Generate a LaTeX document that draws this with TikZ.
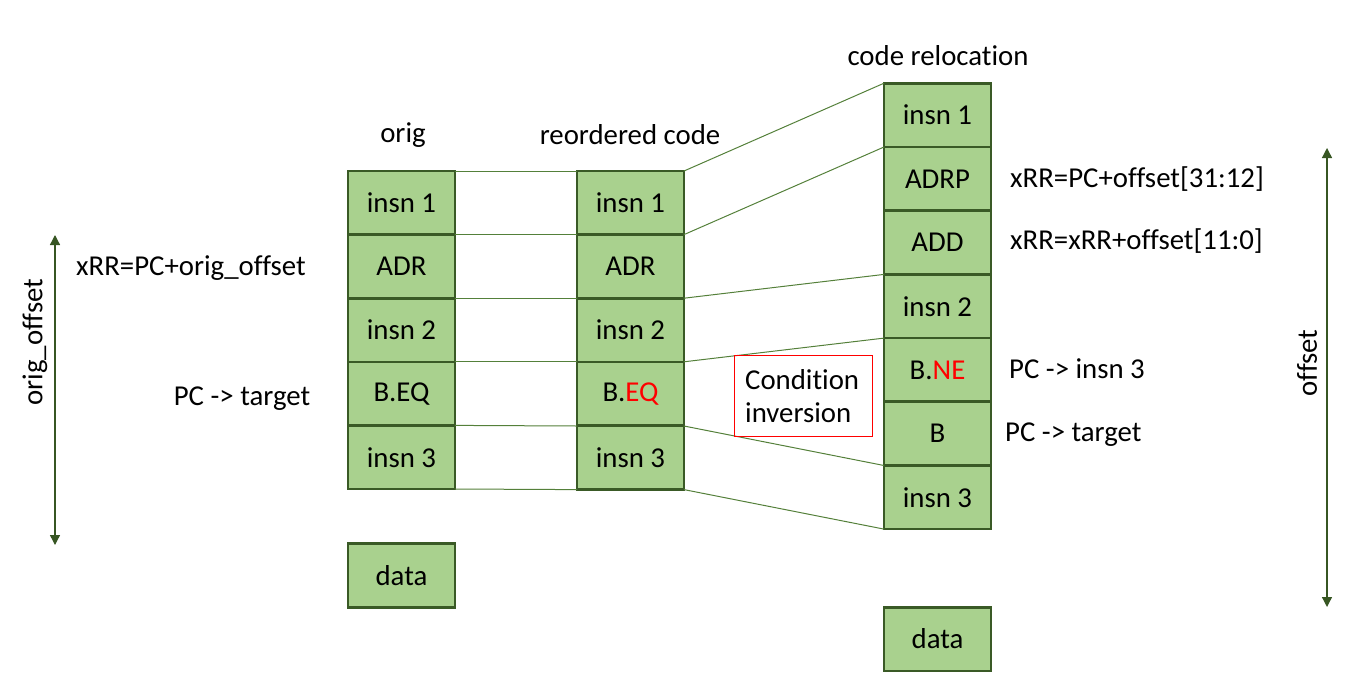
\documentclass[tikz,border=0pt]{standalone}
\usepackage{fontspec}
\setmainfont[Ligatures={NoCommon,NoRare,NoContextual}]{Carlito}
\usetikzlibrary{arrows.meta}
\definecolor{boxfill}{HTML}{A9D18E}
\definecolor{boxline}{HTML}{3A5A26}
\definecolor{conn}{HTML}{54803A}
\definecolor{arr}{HTML}{375623}
\tikzset{
  cell/.style={draw=boxline, fill=boxfill, line width=2.6pt, minimum width=107pt, minimum height=63.6pt, inner sep=0pt, outer sep=0pt, font=\fontsize{28.8}{34}\selectfont},
  lbl/.style={inner sep=0pt, font=\fontsize{28.8}{34}\selectfont},
  thin/.style={draw=conn, line width=1pt},
  dim/.style={draw=arr, line width=1.3pt, {Triangle[width=10pt,length=10pt]}-{Triangle[width=10pt,length=10pt]}}
}
\begin{document}
\begin{tikzpicture}[x=1pt,y=-1pt]
\useasboundingbox (0,0) rectangle (1349,694);
% orig column
\node[cell] (o1) at (401.5,202.8) {insn 1};
\node[cell] (o2) at (401.5,266.4) {ADR};
\node[cell] (o3) at (401.5,330) {insn 2};
\node[cell] (o4) at (401.5,393.6) {B.EQ};
\node[cell] (o5) at (401.5,457.2) {insn 3};
\node[cell] (od) at (401.5,575.5) {data};
% reordered column
\node[cell] (r1) at (630.5,202.8) {insn 1};
\node[cell] (r2) at (630.5,266.4) {ADR};
\node[cell] (r3) at (630.5,330) {insn 2};
\node[cell] (r4) at (630.5,393.6) {B.\textcolor{red}{EQ}};
\node[cell] (r5) at (630.5,457.8) {insn 3};
% relocation column
\node[cell] (c1) at (937.5,115) {insn 1};
\node[cell] (c2) at (937.5,178.8) {ADRP};
\node[cell] (c3) at (937.5,242.5) {ADD};
\node[cell] (c4) at (937.5,306.2) {insn 2};
\node[cell] (c5) at (937.5,369.9) {B.\textcolor{red}{NE}};
\node[cell] (c6) at (937.5,433.6) {B};
\node[cell] (c7) at (937.5,497.3) {insn 3};
\node[cell] (cd) at (937.5,639) {data};
% orig -> reordered connectors
\draw[thin] (o1.north east) -- (r1.north west);
\draw[thin] (o2.north east) -- (r2.north west);
\draw[thin] (o3.north east) -- (r3.north west);
\draw[thin] (o4.north east) -- (r4.north west);
\draw[thin] (o5.north east) -- (r5.north west);
\draw[thin] (o5.south east) -- (r5.south west);
% reordered -> relocation connectors
\draw[thin] (r1.north east) -- (c1.north west);
\draw[thin] (r2.north east) -- (c2.north west);
\draw[thin] (r3.north east) -- (c4.north west);
\draw[thin] (r4.north east) -- (c5.north west);
\draw[thin] (r5.north east) -- (c7.north west);
\draw[thin] (r5.south east) -- (c7.south west);
% titles
\node[lbl] (t1) at (403,135) {orig};
\node[lbl] (t2) at (630,135) {reordered code};
\node[lbl] (t3) at (938,56) {code relocation};
% annotations
\node[lbl] (a1) at (191,268) {xRR=PC+orig\_offset};
\node[lbl] (a2) at (242,399) {PC -> target};
\node[lbl, anchor=west] (a3) at (1010,179) {xRR=PC+offset[31:12]};
\node[lbl, anchor=west] (a4) at (1010,241) {xRR=xRR+offset[11:0]};
\node[lbl, anchor=west] (a5) at (1009,369) {PC -> insn 3};
\node[lbl, anchor=west] (a6) at (1005,435) {PC -> target};
% condition inversion box
\node[draw=red, line width=1pt, minimum width=138pt, minimum height=81pt, inner sep=0pt, outer sep=0pt] (cb) at (803,395.5) {};
\node[lbl, anchor=west, align=left, font=\fontsize{28.8}{33.5}\selectfont] (ct) at (745,396) {Condition\\inversion};
% dimension arrows
\coordinate (l1) at (55,235);
\coordinate (l2) at (55,545);
\draw[dim] (l1) -- (l2);
\node[lbl, rotate=90] (lt) at (35,342) {orig\_offset};
\coordinate (rr1) at (1327,148);
\coordinate (rr2) at (1327,607);
\draw[dim] (rr1) -- (rr2);
\node[lbl, rotate=90] (rt) at (1307,363) {offset};
\end{tikzpicture}
\end{document}
